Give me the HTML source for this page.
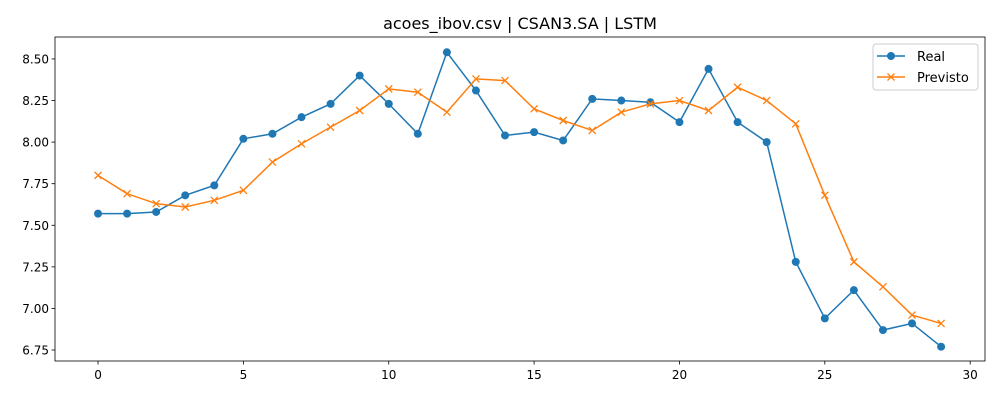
<!DOCTYPE html>
<html><head><meta charset="utf-8"><style>
body{margin:0;background:#fff;font-family:"Liberation Sans","DejaVu Sans",sans-serif}
svg text{font-family:"DejaVu Sans","Liberation Sans",sans-serif}
</style></head><body>
<svg id="chart" width="1000" height="400" xmlns="http://www.w3.org/2000/svg"></svg>
<script>
const xTicks=[0,5,10,15,20,25,30];
const yTicks=[6.75,7.00,7.25,7.50,7.75,8.00,8.25,8.50];
const yTickLabels=["6.75","7.00","7.25","7.50","7.75","8.00","8.25","8.50"];
const realValues=[7.57,7.57,7.58,7.68,7.74,8.02,8.05,8.15,8.23,8.40,8.23,8.05,8.54,8.31,8.04,8.06,8.01,8.26,8.25,8.24,8.12,8.44,8.12,8.00,7.28,6.94,7.11,6.87,6.91,6.77];
const predValues=[7.80,7.69,7.63,7.61,7.65,7.71,7.88,7.99,8.09,8.19,8.32,8.30,8.18,8.38,8.37,8.20,8.13,8.07,8.18,8.23,8.25,8.19,8.33,8.25,8.11,7.68,7.28,7.13,6.96,6.91];

const svg=document.getElementById('chart');const NS='http://www.w3.org/2000/svg';
const L=55,R=985,T=37,B=361,xMin=-1.48,xMax=30.51,yMin=6.684,yMax=8.632;
const sx=v=>L+(v-xMin)/(xMax-xMin)*(R-L);
const sy=v=>B-(v-yMin)/(yMax-yMin)*(B-T);
function mk(t,a,p){const e=document.createElementNS(NS,t);for(const k in a)e.setAttribute(k,a[k]);(p||svg).appendChild(e);return e;}

const title=mk('text',{x:520,y:29,'text-anchor':'middle','font-size':16,fill:'#000'});


title.textContent='acoes_ibov.csv | CSAN3.SA | LSTM';

const frame=mk('rect',{x:L,y:T,width:R-L,height:B-T,fill:'none',stroke:'#000','stroke-width':0.8});



xTicks.forEach(v=>{const g=mk('g',{});


mk('line',{x1:sx(v),x2:sx(v),y1:B,y2:B+3.5,stroke:'#000','stroke-width':0.8},g);
const t=mk('text',{x:sx(v),y:B+18,'text-anchor':'middle','font-size':12,fill:'#000'},g);t.textContent=v;});

yTicks.forEach((v,i)=>{const g=mk('g',{});


mk('line',{x1:L-3.5,x2:L,y1:sy(v),y2:sy(v),stroke:'#000','stroke-width':0.8},g);
const t=mk('text',{x:L-6,y:sy(v)+4.5,'text-anchor':'end','font-size':12,fill:'#000'},g);t.textContent=yTickLabels[i];});

function series(vals,color,marker,name){
const g=mk('g',{});


const pts=vals.map((v,i)=>sx(i)+','+sy(v)).join(' ');
mk('polyline',{points:pts,fill:'none',stroke:color,'stroke-width':1.5},g);
vals.forEach((v,i)=>{
if(marker==='o'){const c=mk('circle',{cx:sx(i),cy:sy(v),r:4,fill:color},g);

}
else{const x=sx(i),y=sy(v),d=3.5;const p=mk('path',{d:`M${x-d},${y-d}L${x+d},${y+d}M${x-d},${y+d}L${x+d},${y-d}`,stroke:color,'stroke-width':1.3,fill:'none'},g);

}
});}
series(realValues,'#1f77b4','o','real-series');
series(predValues,'#ff7f0e','x','previsto-series');

const lg=mk('g',{});


mk('rect',{x:873,y:44,width:105,height:46,rx:3,fill:'#fff',stroke:'#ccc','stroke-width':1},lg);
mk('line',{x1:877,x2:905,y1:56,y2:56,stroke:'#1f77b4','stroke-width':1.5},lg);
mk('circle',{cx:891,cy:56,r:4,fill:'#1f77b4'},lg);
let t=mk('text',{x:917,y:61,'font-size':13,fill:'#000'},lg);t.textContent='Real';
mk('line',{x1:877,x2:905,y1:77,y2:77,stroke:'#ff7f0e','stroke-width':1.5},lg);
mk('path',{d:'M887.5,73.5L894.5,80.5M887.5,80.5L894.5,73.5',stroke:'#ff7f0e','stroke-width':1.3},lg);
t=mk('text',{x:917,y:82,'font-size':13,fill:'#000'},lg);t.textContent='Previsto';
</script>
</body></html>
